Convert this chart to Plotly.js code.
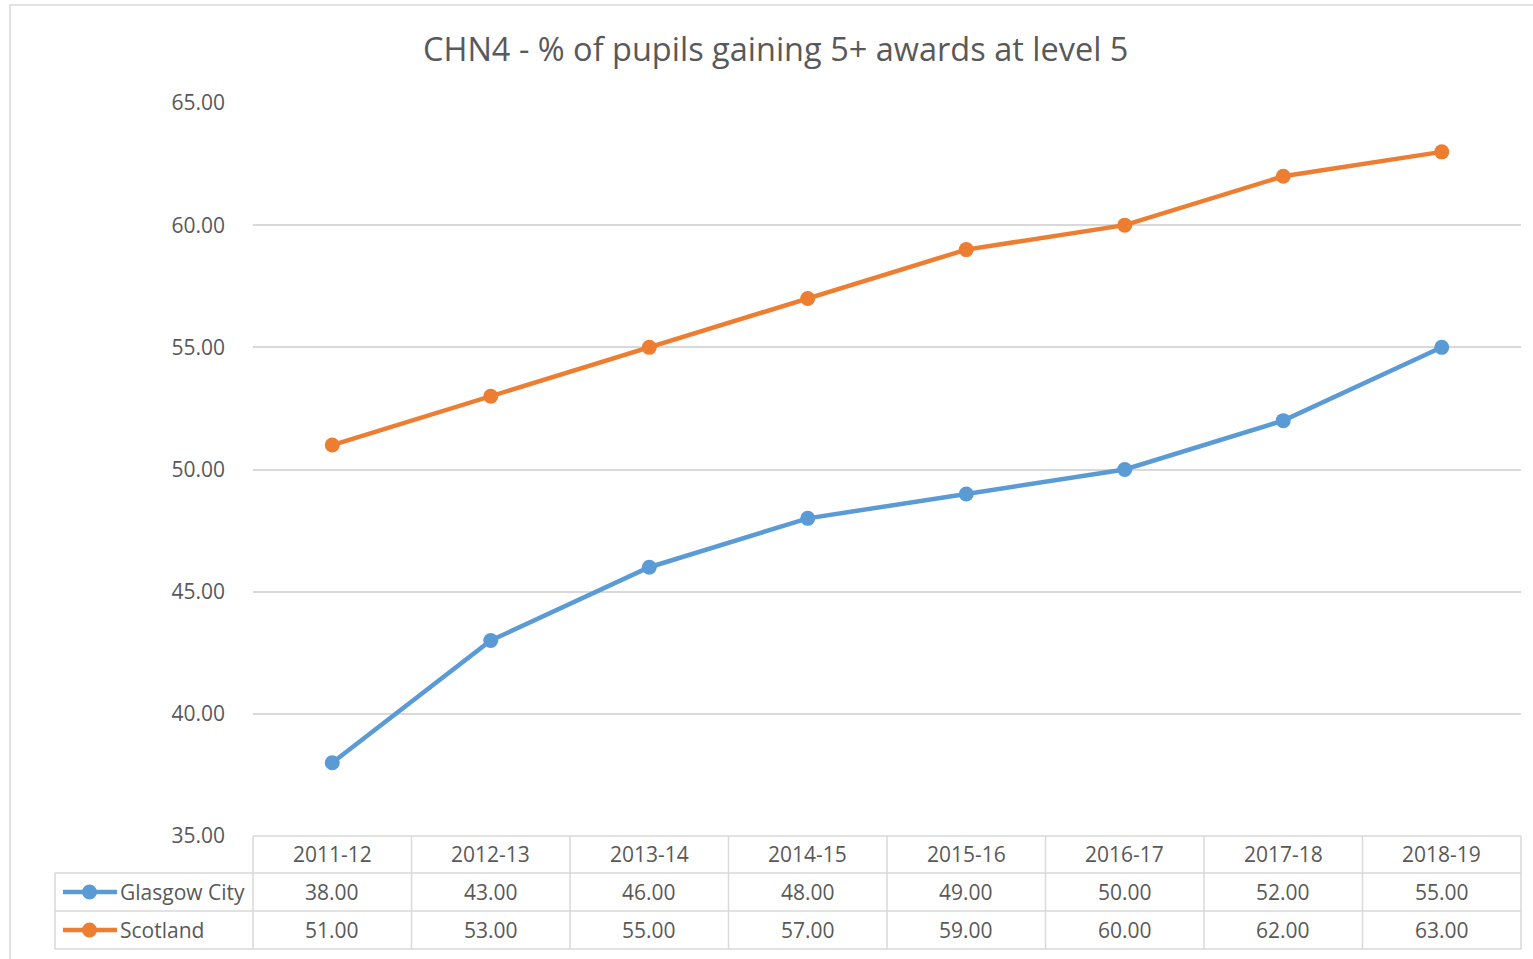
<!DOCTYPE html>
<html>
<head>
<meta charset="utf-8">
<script src="https://cdn.plot.ly/plotly-3.0.1.min.js"></script>
<style>
  html, body { margin: 0; padding: 0; background: #fff; }
  #chart { width: 1533px; height: 959px; }
</style>
</head>
<body>
<div id="chart"></div>
<script>
// data
var years = ['2011-12', '2012-13', '2013-14', '2014-15', '2015-16', '2016-17', '2017-18', '2018-19'];
var glasgow = [38, 43, 46, 48, 49, 50, 52, 55];
var scotland = [51, 53, 55, 57, 59, 60, 62, 63];
var seriesNames = ['Glasgow City', 'Scotland'];
var seriesColors = ['#5B9BD5', '#ED7D31'];
var yTicks = [35, 40, 45, 50, 55, 60, 65];

window.onload = buildChart;

// pixel helpers for the data table under the plot
var plotL = 253, plotR = 1521, plotT = 103, plotB = 836;
function px(x) { return (x - plotL) / (plotR - plotL); }
function py(y) { return (plotB - y) / (plotB - plotT); }

function buildChart() {
    var allSeries = [glasgow, scotland];
    var data = [];
    for (var s = 0; s < allSeries.length; s++) {
        data.push({
            x: years,
            y: allSeries[s],
            type: 'scatter',
            mode: 'lines+markers',
            name: seriesNames[s],
            line: {color: seriesColors[s], width: 4.5},
            marker: {color: seriesColors[s], size: 15},
            showlegend: false
        });
    }

    var gridCol = '#d9d9d9';
    var shapes = [];
    var annotations = [];

    // chart border (left and top only visible)
    shapes.push({type: 'rect', xref: 'paper', yref: 'paper',
        x0: px(10), x1: px(1560), y0: py(5), y1: py(1000),
        line: {color: gridCol, width: 1.5}});

    // table rows
    var rowTops = [836, 873, 911, 949];
    var colW = (plotR - plotL) / years.length;
    var tableLeft = 55;

    // horizontal lines
    shapes.push({type: 'line', xref: 'paper', yref: 'paper',
        x0: px(plotL), x1: px(plotR), y0: py(rowTops[0]), y1: py(rowTops[0]),
        line: {color: gridCol, width: 1.5}});
    for (var r = 1; r < rowTops.length; r++) {
        shapes.push({type: 'line', xref: 'paper', yref: 'paper',
            x0: px(tableLeft), x1: px(plotR), y0: py(rowTops[r]), y1: py(rowTops[r]),
            line: {color: gridCol, width: 1.5}});
    }
    // vertical lines
    shapes.push({type: 'line', xref: 'paper', yref: 'paper',
        x0: px(tableLeft), x1: px(tableLeft), y0: py(rowTops[1]), y1: py(rowTops[3]),
        line: {color: gridCol, width: 1.5}});
    for (var c = 0; c <= years.length; c++) {
        var xx = plotL + c * colW;
        shapes.push({type: 'line', xref: 'paper', yref: 'paper',
            x0: px(xx), x1: px(xx), y0: py(rowTops[0]), y1: py(rowTops[3]),
            line: {color: gridCol, width: 1.5}});
    }

    var fam = '"Open Sans", Lato, sans-serif';
    var txtFont = {family: fam, size: 21, color: '#595959'};

    // header row: categories
    for (var i = 0; i < years.length; i++) {
        annotations.push({xref: 'x', yref: 'paper', x: years[i],
            y: py((rowTops[0] + rowTops[1]) / 2), text: years[i], showarrow: false,
            font: txtFont, xanchor: 'center', yanchor: 'middle'});
    }

    // value rows with legend keys
    for (var s2 = 0; s2 < allSeries.length; s2++) {
        var cy = (rowTops[s2 + 1] + rowTops[s2 + 2]) / 2;
        for (var j = 0; j < years.length; j++) {
            annotations.push({xref: 'x', yref: 'paper', x: years[j], y: py(cy),
                text: allSeries[s2][j].toFixed(2), showarrow: false,
                font: txtFont, xanchor: 'center', yanchor: 'middle'});
        }
        shapes.push({type: 'line', xref: 'paper', yref: 'paper',
            x0: px(63), x1: px(117), y0: py(cy), y1: py(cy),
            line: {color: seriesColors[s2], width: 4.5}});
        shapes.push({type: 'circle', xref: 'paper', yref: 'paper',
            x0: px(82), x1: px(97), y0: py(cy - 7.5), y1: py(cy + 7.5),
            fillcolor: seriesColors[s2], line: {width: 0}});
        annotations.push({xref: 'paper', yref: 'paper', x: px(118), y: py(cy),
            text: seriesNames[s2], showarrow: false, font: txtFont,
            xanchor: 'left', yanchor: 'middle'});
    }

    var layout = {
        width: 1533,
        height: 959,
        margin: {l: plotL, r: 1533 - plotR, t: plotT, b: 959 - plotB, pad: 0},
        paper_bgcolor: '#ffffff',
        plot_bgcolor: '#ffffff',
        font: {family: fam, color: '#595959'},
        title: {
            text: 'CHN4 - % of pupils gaining 5+ awards at level 5',
            font: {family: fam, size: 32.5, color: '#595959'},
            x: 0.506, xanchor: 'center', y: 0.948, yanchor: 'middle'
        },
        xaxis: {
            type: 'category',
            range: [-0.5, years.length - 0.5],
            showticklabels: false,
            showgrid: false,
            zeroline: false,
            showline: false,
            ticks: ''
        },
        yaxis: {
            range: [35, 65],
            tickvals: yTicks,
            ticktext: yTicks.map(function (v) { return v.toFixed(2); }),
            showgrid: true,
            gridcolor: gridCol,
            gridwidth: 1.5,
            zeroline: false,
            showline: false,
            ticks: '',
            ticklabelstandoff: 27,
            tickfont: {family: fam, size: 21, color: '#595959'}
        },
        shapes: shapes,
        annotations: annotations
    };

    Plotly.newPlot('chart', data, layout, {displayModeBar: false});
}
</script>
</body>
</html>
